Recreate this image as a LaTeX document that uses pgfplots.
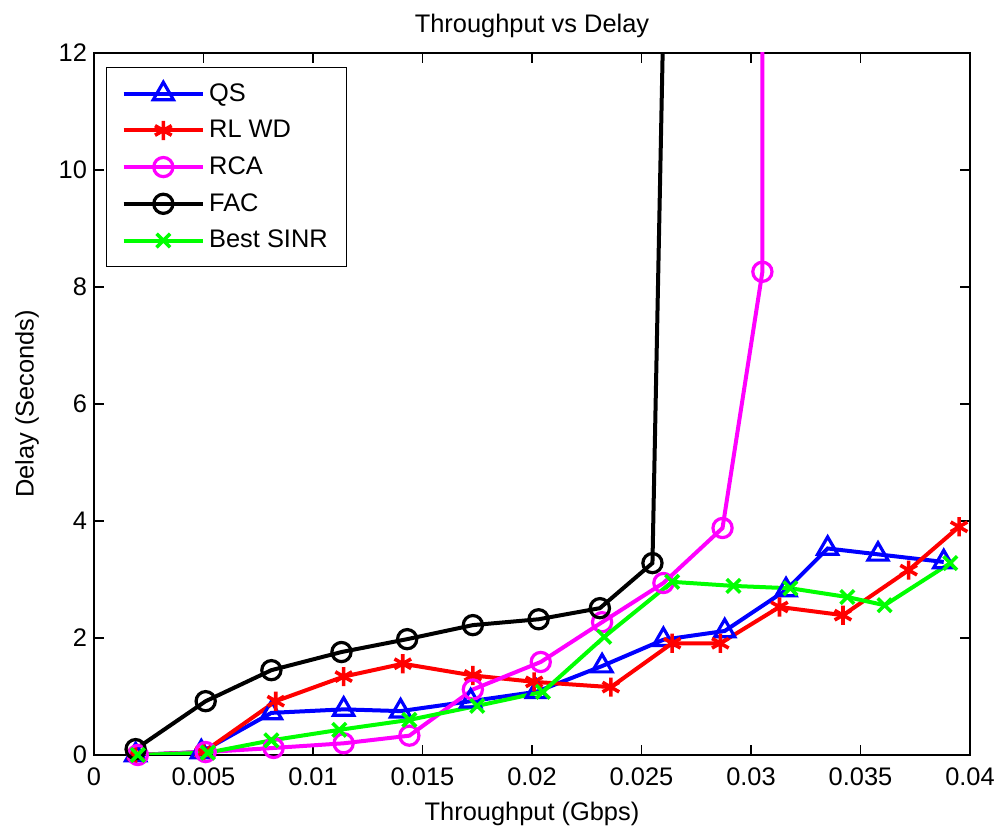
\documentclass[border=0pt]{standalone}
\usepackage{pgfplots}
\pgfplotsset{compat=1.18}
\usepackage{fontspec}
\setmainfont{Liberation Sans}
\newcommand\myfont{\fontsize{12.7}{15}\selectfont}
\definecolor{mblue}{RGB}{0,0,255}
\definecolor{mred}{RGB}{255,0,0}
\definecolor{mmag}{RGB}{255,0,255}
\definecolor{mgreen}{RGB}{0,255,0}
\begin{document}
\begin{tikzpicture}
\begin{axis}[
  scale only axis,
  width=438pt, height=351pt,
  xmin=0, xmax=0.04, ymin=0, ymax=12,
  xtick={0,0.005,0.01,0.015,0.02,0.025,0.03,0.035,0.04},
  xticklabels={0,0.005,0.01,0.015,0.02,0.025,0.03,0.035,0.04},
  ytick={0,2,4,6,8,10,12},
  yticklabels={0,2,4,6,8,10,12},
  scaled x ticks=false,
  tick align=inside,
  major tick length=5pt,
  axis line style={line width=0.7pt},
  every tick/.style={black, line width=0.6pt},
  tick label style={font=\myfont},
  label style={font=\myfont},
  title style={font=\myfont, yshift=-2pt},
  title={Throughput vs Delay},
  xlabel={Throughput (Gbps)},
  ylabel={Delay (Seconds)},
  xticklabel style={yshift=-3pt},
  xlabel style={yshift=-1pt},
  ylabel style={yshift=3pt},
  legend cell align=left,
  legend style={font=\myfont, at={(0,1)}, anchor=north west, xshift=6pt, yshift=-7pt,
    draw=black, line width=0.5pt, row sep=4pt, inner xsep=7.5pt, inner ysep=6pt},
  legend image code/.code={\draw[#1, mark=none] (0cm,0cm) -- (1.4cm,0cm); \draw[#1] plot coordinates {(0.7cm,0cm)};},
  every axis plot/.append style={line width=2pt},
]
\addplot[color=mblue, mark=triangle, mark size=5.8pt, mark options={solid, line width=1.6pt}] coordinates {
(0.0019,0.0) (0.0049,0.05) (0.0081,0.72) (0.0114,0.78) (0.0140,0.75) (0.0172,0.92) (0.0202,1.08) (0.0232,1.52) (0.0260,1.97) (0.0288,2.12) (0.0316,2.82) (0.0335,3.53) (0.0358,3.43) (0.0388,3.30)};
\addlegendentry{QS}
\addplot[color=mred, mark=asterisk, mark size=4.8pt, mark options={solid, line width=1.8pt}] coordinates {
(0.0019,0) (0.0050,0.05) (0.0083,0.92) (0.0114,1.34) (0.0141,1.56) (0.0173,1.36) (0.0201,1.25) (0.0236,1.16) (0.0264,1.91) (0.0286,1.91) (0.0313,2.53) (0.0342,2.39) (0.0372,3.16) (0.0395,3.90)};
\addlegendentry{RL WD}
\addplot[color=mmag, mark=o, mark size=4.8pt, mark options={solid, line width=1.6pt}, mark indices={1,2,3,4,5,6,7,8,9,10,11}] coordinates {
(0.0020,0) (0.0051,0.05) (0.0082,0.12) (0.0114,0.20) (0.0144,0.33) (0.0173,1.12) (0.0204,1.59) (0.0232,2.27) (0.0260,2.94) (0.0287,3.88) (0.03052,8.26) (0.03052,40)};
\addlegendentry{RCA}
\addplot[color=black, mark=o, mark size=4.8pt, mark options={solid, line width=1.6pt}, mark indices={1,2,3,4,5,6,7,8,9}] coordinates {
(0.0019,0.10) (0.0051,0.92) (0.0081,1.45) (0.0113,1.76) (0.0143,1.98) (0.0173,2.22) (0.0203,2.32) (0.0231,2.51) (0.0255,3.28) (0.0265,22)};
\addlegendentry{FAC}
\addplot[color=mgreen, mark=x, mark size=4.8pt, mark options={solid, line width=1.8pt}] coordinates {
(0.0020,0) (0.0052,0.04) (0.0081,0.25) (0.0112,0.43) (0.0144,0.60) (0.0175,0.84) (0.0205,1.08) (0.0233,2.02) (0.0264,2.96) (0.0292,2.89) (0.0318,2.85) (0.0344,2.70) (0.0361,2.56) (0.0391,3.28)};
\addlegendentry{Best SINR}
\end{axis}
\pgfresetboundingbox
\path ([shift={(-47pt,-38.5pt)}]current axis.south west) rectangle ([shift={(17.5pt,26.5pt)}]current axis.north east);
\end{tikzpicture}
\end{document}
